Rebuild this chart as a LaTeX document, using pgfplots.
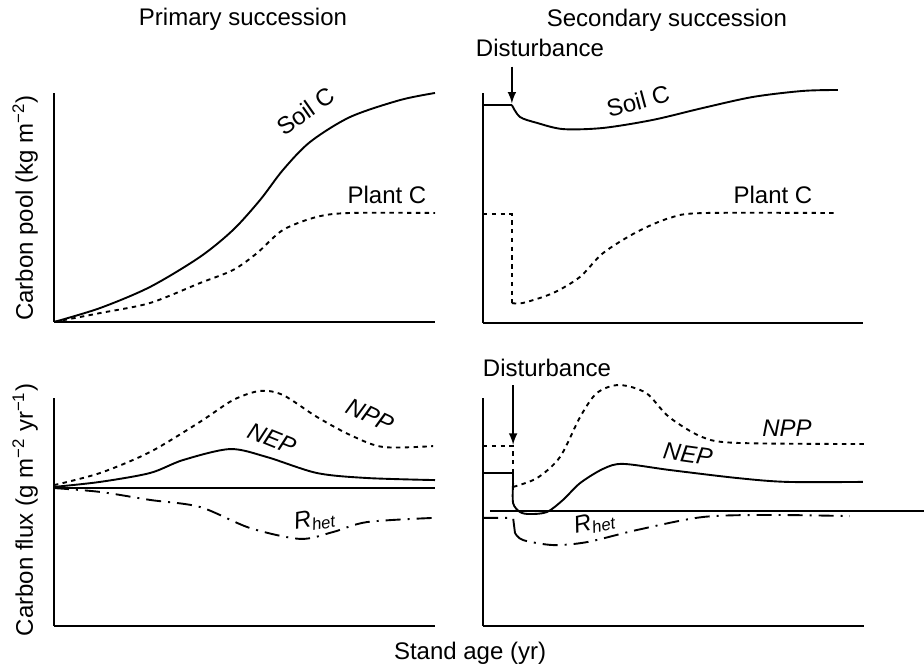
\documentclass[border=0pt]{standalone}
\usepackage{pgfplots}
\pgfplotsset{compat=1.18}
\usepackage{fontspec}
\setmainfont{Liberation Sans}

\pgfplotsset{
  panel/.style={
    scale only axis, clip=false,
    xmin=0, xmax=100, ymin=0, ymax=100,
    axis lines=left, axis line style={-, line width=1pt},
    xtick=\empty, ytick=\empty, anchor=south west,
  },
  curve/.style={black, line width=0.95pt, smooth, tension=0.5, no markers},
  sharp/.style={black, line width=0.95pt, sharp plot, no markers},
  dots/.style={dash pattern=on 2.2bp off 2.2bp},
  dashdot/.style={dash pattern=on 7.5bp off 3.5bp on 1bp off 3.5bp},
}

\begin{document}
\fontsize{12bp}{14bp}\selectfont
\begin{tikzpicture}
\path[use as bounding box] (0,0) rectangle (462bp,334bp);

% ---- primary, carbon pools
\begin{axis}[panel, at={(27bp,173bp)}, width=190.5bp, height=114.5bp]
  \addplot[curve] coordinates {
    (0,0) (12.1,6.1) (25.2,15.3) (38.3,28.4) (47.0,40.2) (54.1,53.3)
    (60.1,66.4) (67.2,78.6) (77.7,89.5) (90.8,96.9) (100,100)};
  \addplot[curve, dots] coordinates {
    (0,0) (12.1,3.9) (25.2,8.3) (38.3,17.0) (47.0,22.7) (53.3,30.1)
    (60.1,40.2) (69.0,45.9) (77.7,47.6) (100,47.6)};
  \node[rotate=35] at (axis cs:66.0,92.0) {Soil C};
  \node at (axis cs:87.4,55.5) {Plant C};
  \node at (axis cs:49.6,132.3) {Primary succession};
  \node[rotate=90] at (axis cs:-7.6,49.8) {Carbon pool (kg m\textsuperscript{−2})};
\end{axis}

% ---- secondary, carbon pools
\begin{axis}[panel, at={(241.5bp,172.5bp)}, width=190bp, height=115bp]
  \addplot[sharp] coordinates {(0,94.8) (7.6,94.8)};
  \addplot[curve] coordinates {
    (7.6,94.8) (9.7,89.6) (14.2,87.0) (21.1,84.3) (31.6,84.8) (44.7,88.3)
    (57.9,93.5) (71.1,98.3) (84.2,100.9) (93.4,101.3)};
  \addplot[sharp, dots] coordinates {(0,47.4) (7.6,47.4) (7.6,8.7)};
  \addplot[curve, dots] coordinates {
    (7.6,8.7) (10.5,8.7) (18.4,13.0) (25.5,20.0) (31.6,30.4) (40.5,39.6)
    (49.2,45.7) (57.9,47.8) (93.4,47.8)};
  \draw[-latex, line width=0.95pt] (axis cs:7.6,111.5) -- (axis cs:7.6,95.5);
  \node at (axis cs:15.0,119.6) {Disturbance};
  \node[rotate=15] at (axis cs:40.8,96.5) {Soil C};
  \node at (axis cs:76.3,55.7) {Plant C};
  \node at (axis cs:48.4,131.7) {Secondary succession};
\end{axis}

% ---- primary, carbon fluxes
\begin{axis}[panel, at={(27bp,21bp)}, width=190.5bp, height=114bp]
  \addplot[sharp] coordinates {(0,60.5) (100,60.5)};
  \addplot[curve, dots] coordinates {
    (0,61.8) (12.1,67.1) (25.2,76.3) (38.3,89.5) (47.0,99.1) (54.1,103.1)
    (60.1,101.3) (69.0,91.7) (77.7,83.8) (86.4,78.5) (99.5,78.9)};
  \addplot[curve] coordinates {
    (0,61) (12.1,63.2) (25.2,67.1) (33.9,72.8) (46.2,77.6) (55.9,74.1)
    (69.0,67.1) (82.2,64.9) (100,64.0)};
  \addplot[curve, dashdot] coordinates {
    (0,60.5) (12.1,58.8) (25.2,55.3) (38.3,52.2) (51.4,43.0) (64.6,38.2)
    (73.2,41.2) (82.2,45.6) (99.5,47.4)};
  \node[rotate=-25] at (axis cs:83.0,92.5) {\textit{NPP}};
  \node[rotate=-22] at (axis cs:57.2,82.0) {\textit{NEP}};
  \node[rotate=10] at (axis cs:68.5,46.5) {\textit{R}\textsubscript{\textit{het}}};
  \node[rotate=90] at (axis cs:-7.6,50.9) {Carbon flux (g m\textsuperscript{−2} yr\textsuperscript{−1})};
  \node at (axis cs:109.2,-11.8) {Stand age (yr)};
\end{axis}

% ---- secondary, carbon fluxes
\begin{axis}[panel, at={(241.5bp,21bp)}, width=190.5bp, height=114bp]
  \addplot[sharp] coordinates {(1.8,50.4) (115.7,50.4)};
  \addplot[sharp, dots] coordinates {(0,78.9) (7.9,78.9) (7.9,61.0)};
  \addplot[curve, dots] coordinates {
    (7.9,61.0) (14.2,64.9) (20.2,74.1) (25.5,91.7) (29.9,102.2) (35.7,105.7)
    (42.8,102.2) (48.8,91.7) (57.5,82.9) (66.7,80.3) (100.8,79.8)};
  \addplot[sharp] coordinates {(0,67.1) (7.9,67.1) (7.9,62.7)};
  \addplot[curve] coordinates {
    (7.9,62.7) (7.9,53.9) (9.7,50.0) (12.3,49.1) (16.8,50.0) (21.0,55.3)
    (25.5,62.7) (31.5,68.9) (36.7,71.1) (49.1,68.4) (66.7,64.9) (79.8,63.2)
    (99.7,63.2)};
  \addplot[sharp, dashdot] coordinates {(0,47.4) (7.9,47.4) (8.4,40.8)};
  \addplot[curve, dashdot] coordinates {
    (8.4,40.8) (10.5,37.7) (18.4,35.5) (27.3,36.8) (40.4,42.1) (57.7,47.8)
    (75.3,48.7) (96.3,48.2)};
  \draw[-latex, line width=0.95pt] (axis cs:7.9,105.7) -- (axis cs:7.9,79.5);
  \node at (axis cs:16.8,113.2) {Disturbance};
  \node at (axis cs:79.8,86.8) {\textit{NPP}};
  \node[rotate=-8] at (axis cs:53.8,75.5) {\textit{NEP}};
  \node[rotate=12] at (axis cs:29.4,45.2) {\textit{R}\textsubscript{\textit{het}}};
\end{axis}
\end{tikzpicture}
\end{document}
